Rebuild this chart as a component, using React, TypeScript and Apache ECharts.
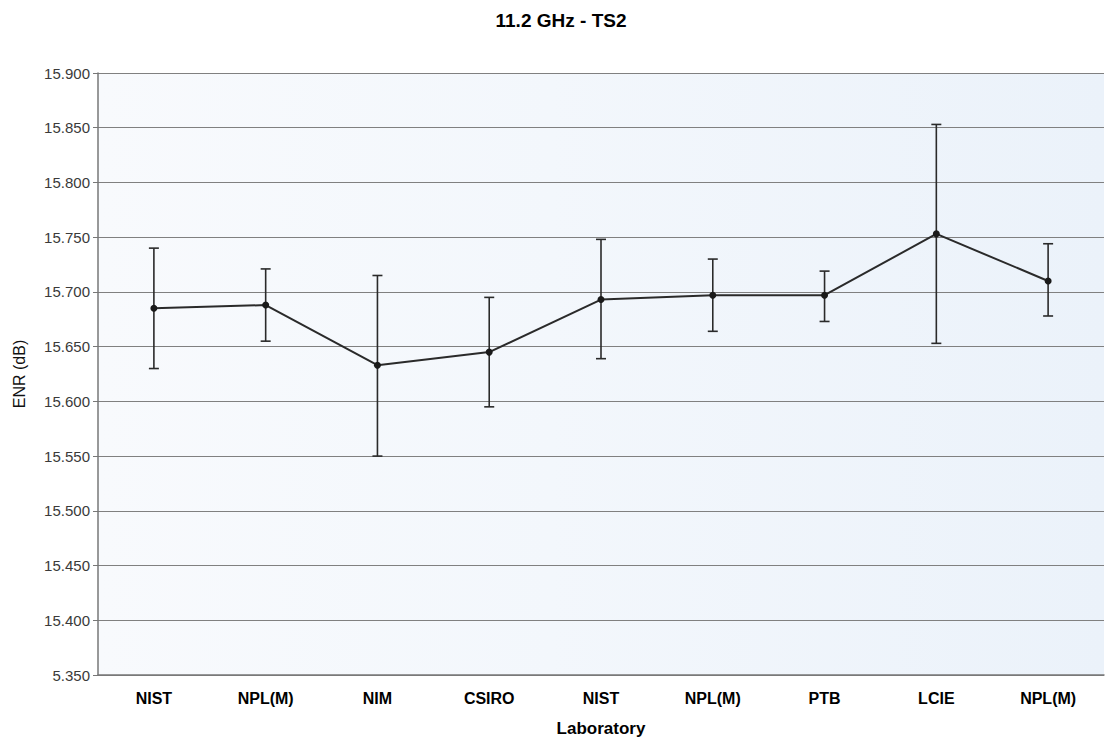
import React, { useEffect, useRef } from "react";
import * as echarts from "echarts";

const categories = ["NIST", "NPL(M)", "NIM", "CSIRO", "NIST", "NPL(M)", "PTB", "LCIE", "NPL(M)"];
const enrValues = [15.685, 15.688, 15.633, 15.645, 15.693, 15.697, 15.697, 15.753, 15.710];
const lowValues = [15.630, 15.655, 15.550, 15.595, 15.639, 15.664, 15.673, 15.653, 15.678];
const highValues = [15.740, 15.721, 15.715, 15.695, 15.748, 15.730, 15.719, 15.853, 15.744];
const yTickLabels = ["5.350", "15.400", "15.450", "15.500", "15.550", "15.600", "15.650", "15.700", "15.750", "15.800", "15.850", "15.900"];
const yMin = 15.35;
const yMax = 15.9;
const yStep = 0.05;

export default function App() {
  const ref = useRef<HTMLDivElement>(null);
  useEffect(() => {
    document.body.style.margin = "0";
    const chart = echarts.init(ref.current!, null, { renderer: "svg" });
    const errData = categories.map((_, i) => [i, lowValues[i], highValues[i]]);
    chart.setOption({
      animation: false,
      backgroundColor: "#ffffff",
      textStyle: { fontFamily: "Liberation Sans, Arial, sans-serif" },
      title: {
        text: "11.2 GHz - TS2",
        left: 556,
        textAlign: "center",
        top: 6,
        textStyle: { fontSize: 19, fontWeight: "bold", color: "#000" },
      },
      grid: {
        left: 98,
        right: 8,
        top: 73,
        bottom: 68,
        show: true,
        borderWidth: 0,
        backgroundColor: {
          type: "linear",
          x: 0, y: 0, x2: 1, y2: 0,
          colorStops: [
            { offset: 0, color: "#f8fafd" },
            { offset: 0.45, color: "#f3f7fc" },
            { offset: 1, color: "#ebf2fa" },
          ],
        },
      },
      xAxis: {
        type: "category",
        data: categories,
        boundaryGap: true,
        name: "Laboratory",
        nameLocation: "middle",
        nameGap: 45,
        nameTextStyle: { fontSize: 17, fontWeight: "bold", color: "#000" },
        axisLine: { lineStyle: { color: "#777", width: 1.5 } },
        axisTick: { show: false },
        axisLabel: { fontSize: 16, fontWeight: "bold", color: "#000", margin: 15 },
      },
      yAxis: {
        type: "value",
        min: yMin,
        max: yMax,
        interval: yStep,
        name: "ENR (dB)",
        nameLocation: "middle",
        nameGap: 71,
        nameTextStyle: { fontSize: 16, color: "#111" },
        axisLine: { show: true, lineStyle: { color: "#777", width: 1.5 } },
        axisTick: { show: true, length: 5, lineStyle: { color: "#777" } },
        axisLabel: {
          fontSize: 15,
          color: "#3a3a3a",
          margin: 8,
          formatter: (v: number) => yTickLabels[Math.round((v - yMin) / yStep)] ?? v.toFixed(3),
        },
        splitLine: { show: true, lineStyle: { color: "#808080", width: 1.2 } },
      },
      series: [
        {
          type: "custom",
          data: errData,
          z: 3,
          renderItem: (params: any, api: any) => {
            const idx = api.value(0);
            const lo = api.coord([idx, api.value(1)]);
            const hi = api.coord([idx, api.value(2)]);
            const cap = 5;
            const style = { stroke: "#2a2a2a", lineWidth: 1.6 };
            return {
              type: "group",
              children: [
                { type: "line", shape: { x1: hi[0], y1: hi[1], x2: lo[0], y2: lo[1] }, style },
                { type: "line", shape: { x1: hi[0] - cap, y1: hi[1], x2: hi[0] + cap, y2: hi[1] }, style },
                { type: "line", shape: { x1: lo[0] - cap, y1: lo[1], x2: lo[0] + cap, y2: lo[1] }, style },
              ],
            };
          },
        },
        {
          type: "line",
          data: enrValues,
          z: 4,
          symbol: "circle",
          symbolSize: 7,
          itemStyle: { color: "#1a1a1a" },
          lineStyle: { color: "#2a2a2a", width: 2 },
        },
      ],
    });
    return () => chart.dispose();
  }, []);
  return <div ref={ref} style={{ width: 1112, height: 743 }} />;
}
